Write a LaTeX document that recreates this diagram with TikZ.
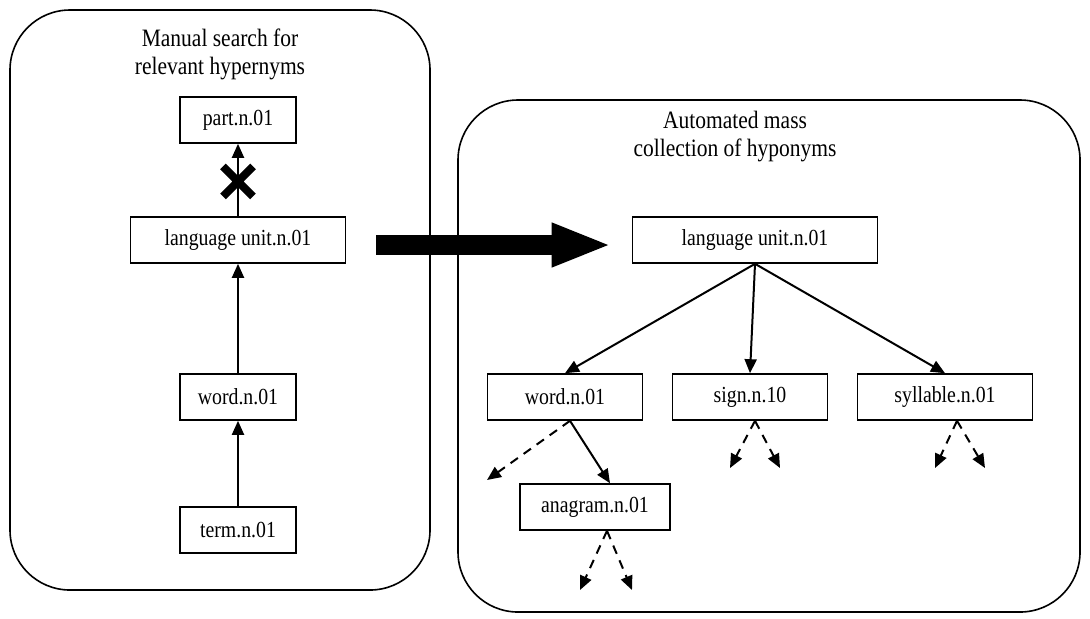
\documentclass[tikz,border=0pt]{standalone}
\usepackage{fontspec}
\setmainfont{Liberation Serif}[FakeStretch=0.86]
\usepackage{tikz}
\usetikzlibrary{arrows.meta,positioning,shapes.misc}

\begin{document}
\begin{tikzpicture}[->,>={Triangle[length=7pt,width=6pt]},line width=1pt,x=0.5pt,y=-0.5pt]
		  \tikzstyle{synset}=[draw=black,thick,fill=white,text=black,font=\fontsize{11.5}{13}\selectfont,minimum height=23pt,inner sep=2pt]
		  \tikzstyle{stage}=[-,draw=black,thick,rounded corners=30pt]
		  \tikzstyle{caption}=[align=center,font=\fontsize{12.5}{14}\selectfont]
		  \tikzstyle{more}=[dashed,dash pattern=on 4.5pt off 3.5pt]
		  \tikzstyle{nolink}=[cross out,draw=black,line width=4pt,minimum width=11pt,minimum height=11pt,inner sep=0pt]
		
		  \useasboundingbox (0,0) rectangle (1090,618);
		
		  % the two stages
		  \draw[stage] (10,10) rectangle (430,590);
		  \draw[stage] (458,100) rectangle (1080,612);
		  \node[caption] (manual) at (220,54) {Manual search for\\relevant hypernyms};
		  \node[caption] (auto) at (735,137) {Automated mass\\collection of hyponyms};
		
		  % hypernym chain
		  \node[synset,minimum width=107.5pt] (unitA) at (238,240) {language unit.n.01};
		  \node[synset,minimum width=58pt] (part) [above of=unitA,node distance=60pt] {part.n.01};
		  \node[synset,minimum width=58pt] (wordA) [below of=unitA,node distance=78.5pt] {word.n.01};
		  \node[synset,minimum width=58pt] (term) [below of=wordA,node distance=66.5pt] {term.n.01};
		
		  % hyponym tree
		  \node[synset,minimum width=122.5pt] (unitB) [right of=unitA,node distance=258.5pt] {language unit.n.01};
		  \node[synset,minimum width=77.5pt] (wordB) [right of=wordA,node distance=163.5pt] {word.n.01};
		  \node[synset,minimum width=77.5pt] (sign) [right of=wordB,node distance=92.5pt] {sign.n.10};
		  \node[synset,minimum width=87.5pt] (syllable) [right of=sign,node distance=97.5pt] {syllable.n.01};
		  \node[synset,minimum width=75pt] (anagram) [below of=wordB,node distance=55pt,xshift=15pt] {anagram.n.01};
		
		  \path (term) edge (wordA);
		  \path (wordA) edge (unitA);
		  \path (unitA) edge node[nolink,pos=0.48] (cut) {} (part);
		
		  \draw[-{Triangle[length=30pt,width=20pt]},line width=10pt] ([xshift=15pt,yshift=-2.5pt]unitA.east) -- ([xshift=-10pt,yshift=-2.5pt]unitB.west);
		
		  \path (unitB.south) edge (wordB.north);
		  \path (unitB.south) edge (sign.north);
		  \path (unitB.south) edge (syllable.north);
		  \path ([xshift=2.5pt]wordB.south) edge ([xshift=7.5pt]anagram.north);
		
		  % further hyponyms, not shown
		  \coordinate (wordL) at (487,480);
		  \coordinate (anaL) at (580,590);
		  \coordinate (anaR) at (632,590);
		  \coordinate (signL) at (730,468);
		  \coordinate (signR) at (780,468);
		  \coordinate (sylL) at (935,468);
		  \coordinate (sylR) at (985,468);
		  \path ([xshift=2.5pt]wordB.south) edge[more] (wordL);
		  \path ([xshift=6pt]anagram.south) edge[more] (anaL);
		  \path ([xshift=6pt]anagram.south) edge[more] (anaR);
		  \path ([xshift=2.5pt]sign.south) edge[more] (signL);
		  \path ([xshift=2.5pt]sign.south) edge[more] (signR);
		  \path ([xshift=6pt]syllable.south) edge[more] (sylL);
		  \path ([xshift=6pt]syllable.south) edge[more] (sylR);
		\end{tikzpicture}
\end{document}
